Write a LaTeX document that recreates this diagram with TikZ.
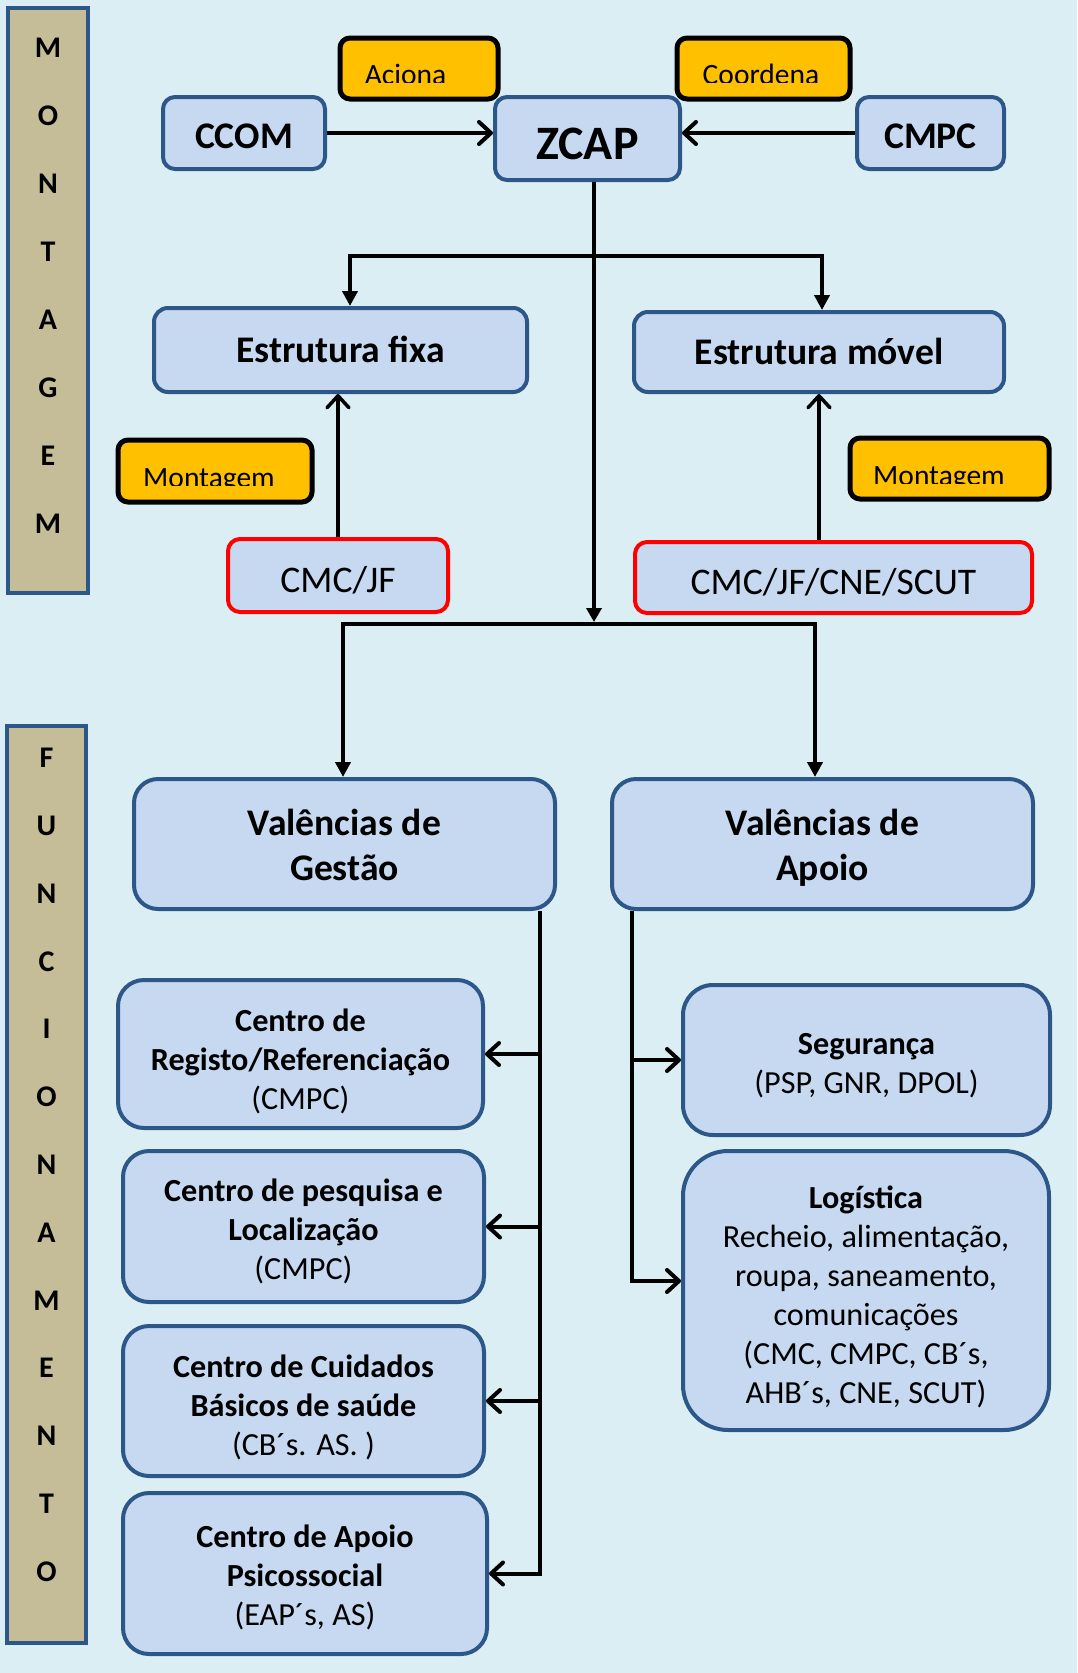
\documentclass[tikz,border=0pt]{standalone}
\usepackage{fontspec}
\setmainfont{Carlito}
\usetikzlibrary{arrows.meta,calc}
\definecolor{bg}{HTML}{DBEEF4}
\definecolor{boxfill}{HTML}{C6D9F1}
\definecolor{boxdraw}{HTML}{2C5788}
\definecolor{tanbar}{HTML}{C4BD97}
\definecolor{amber}{HTML}{FFC000}
\definecolor{redline}{HTML}{FF0000}
\newcommand\fsz[2]{\fontsize{#1}{#2}\selectfont}
% shift a (multi-line) text down without changing its reported size
\newcommand\dn[2]{\raisebox{-#1}[\height][\depth]{\begin{tabular}{@{}c@{}}#2\end{tabular}}}
\newcommand\dnone[2]{\raisebox{-#1}[\height][\depth]{#2}}
\begin{document}
\begin{tikzpicture}[x=1pt,y=-1pt,
 box/.style={draw=boxdraw, fill=boxfill, line width=4pt, rounded corners=#1, inner sep=0pt},
 box/.default=12pt,
 redbox/.style={draw=redline, fill=boxfill, line width=4pt, rounded corners=12pt, inner sep=0pt},
 ybox/.style={draw=black, fill=amber, line width=5pt, rounded corners=10pt, inner sep=0pt},
 ytext/.style={inner sep=0pt, font=\fsz{29.5}{35}},
 bar/.style={draw=boxdraw, fill=tanbar, line width=4.5pt, inner sep=0pt},
 letter/.style={font=\fsz{30}{36}\bfseries, inner sep=0pt},
 sz/.style 2 args={minimum width=#1pt, minimum height=#2pt},
 headtxt/.style={font=\fsz{37.6}{45}\bfseries},
 bodytxt/.style={font=\fsz{32.2}{39}},
 barb/.style={line width=4pt, -{Straight Barb[length=12pt,width=22pt,round]}},
 tri/.style={line width=4pt, -{Triangle[length=14pt,width=15pt]}},
 tri2/.style={line width=4pt, line join=miter, {Triangle[length=15pt,width=15pt]}-{Triangle[length=15pt,width=15pt]}},
]
\useasboundingbox (0,0) rectangle (1077,1673);
\fill[bg] (0,0) rectangle (1077,1673);

% side bars
\node[bar, sz={80}{585}] (barM) at (48,300.5) {};
\node[bar, sz={79}{917}] (barF) at (46.5,1184.5) {};
\foreach \l [count=\i from 0] in {M,O,N,T,A,G,E,M}
  \node[letter] (m\i) at (48,48+68*\i) {\l};
\foreach \l [count=\i from 0] in {F,U,N,C,I,O,N,A,M,E,N,T,O}
  \node[letter] (f\i) at (46.5,758+67.8*\i) {\l};

% top row
\node[box, sz={162}{72}, font=\fsz{37.6}{44}\bfseries] (ccom) at (244,133) {\dnone{3.2pt}{CCOM}};
\node[box, sz={185}{83}, font=\fsz{48}{56}\bfseries] (zcap) at (587.5,138.5) {\dnone{5.3pt}{ZCAP}};
\node[box, sz={147}{72}, font=\fsz{37.6}{44}\bfseries] (cmpc) at (930.5,133) {\dnone{3.2pt}{CMPC}};

% yellow labels
\node[ybox, sz={158}{61}] (aciona) at (419,68.5) {};
\node[ybox, sz={173}{61}] (coordena) at (763.5,68.5) {};
\node[ybox, sz={194}{62}] (montL) at (215,471) {};
\node[ybox, sz={199}{61}] (montR) at (949.5,468.5) {};
\begin{scope}
  \clip (340,38) rectangle (498,82);
  \node[ytext, anchor=base] (acionat) at (405.5,84) {Aciona};
\end{scope}
\begin{scope}
  \clip (677,38) rectangle (850,82);
  \node[ytext, anchor=base] (coordenat) at (761,84) {Coordena};
\end{scope}
\begin{scope}
  \clip (118,440) rectangle (312,485);
  \node[ytext, anchor=base] (montLt) at (209,487) {Montagem};
\end{scope}
\begin{scope}
  \clip (850,438) rectangle (1049,483);
  \node[ytext, anchor=base] (montRt) at (939,485) {Montagem};
\end{scope}

% structures
\node[box=14pt, sz={373}{84}, headtxt] (ef) at (340.5,350) {\dnone{-1pt}{Estrutura fixa}};
\node[box=14pt, sz={370}{80}, headtxt] (em) at (819,352) {\dnone{-1pt}{Estrutura móvel}};
\node[redbox, sz={220}{73}, font=\fsz{37.6}{44}] (cmcjf) at (338,575.5) {\dnone{4.3pt}{CMC/JF}};
\node[redbox, sz={397}{71}, font=\fsz{37.6}{44}] (cmc2) at (833.5,577.5) {\dnone{4.3pt}{CMC/JF/CNE/SCUT}};

% valencias
\node[box=24pt, sz={421}{130}, headtxt] (gestao) at (344.5,844) {\dn{4.5pt}{Valências de\\Gestão}};
\node[box=24pt, sz={421}{130}, headtxt] (apoio) at (822.5,844) {\dn{4.5pt}{Valências de\\Apoio}};

% gestao children
\node[box=26pt, sz={365}{148}, bodytxt] (registo) at (300.5,1054) {\dn{9pt}{\textbf{Centro de}\\\textbf{Registo/Referenciação}\\(CMPC)}};
\node[box=26pt, sz={361}{151}, bodytxt] (local) at (303.5,1226.5) {\dn{6.5pt}{\textbf{Centro de pesquisa e}\\\textbf{Localização}\\(CMPC)}};
\node[box=26pt, sz={361}{150}, bodytxt] (cuid) at (303.5,1401) {\dn{8pt}{\textbf{Centro de Cuidados}\\\textbf{Básicos de saúde}\\(CB´s. AS. )}};
\node[box=26pt, sz={364}{161}, bodytxt] (psico) at (305,1573.5) {\dn{5pt}{\textbf{Centro de Apoio}\\\textbf{Psicossocial}\\(EAP´s, AS)}};

% apoio children
\node[box=30pt, sz={367}{150}, bodytxt] (seg) at (866.5,1060) {\dn{6.5pt}{\textbf{Segurança}\\(PSP, GNR, DPOL)}};
\node[box=45pt, sz={366}{279}, bodytxt] (logistica) at (866,1290.5) {\dn{8pt}{\textbf{Logística}\\Recheio, alimentação,\\roupa, saneamento,\\comunicações\\(CMC, CMPC, CB´s,\\AHB´s, CNE, SCUT)}};

% connectors
\draw[barb] (ccom.east) -- (zcap.west |- ccom.east);
\draw[barb] (cmpc.west) -- (zcap.east |- cmpc.west);
\coordinate (j) at (594,622);
\draw[tri] (zcap.south -| j) -- (j);
\coordinate (b1) at (350,256);
\coordinate (b2) at (822,256);
\draw[tri2] (b1 |- ef.north) -- (b1) -- (b2) -- (b2 |- em.north);
\draw[barb, line width=3.5pt] (cmcjf.north) -- (cmcjf.north |- ef.south);
\draw[barb, line width=3.5pt] (em.south |- cmc2.north) -- (em.south);
\coordinate (hl) at (343,624);
\coordinate (hr) at (815,624);
\draw[tri2] (hl |- gestao.north) -- (hl) -- (hr) -- (hr |- apoio.north);

\coordinate (vg) at (540,0);
\draw[barb] (vg |- gestao.south) -- (vg |- psico.east) -- (psico.east);
\draw[barb] (vg |- registo.east) -- (registo.east);
\draw[barb] (vg |- local.east) -- (local.east);
\draw[barb] (vg |- cuid.east) -- (cuid.east);

\coordinate (va) at (632,0);
\coordinate (logt) at ([yshift=9.5pt]logistica.west);
\draw[barb] (va |- apoio.south) -- (va |- logt) -- (logt);
\draw[barb] (va |- seg.west) -- (seg.west);
\end{tikzpicture}
\end{document}
